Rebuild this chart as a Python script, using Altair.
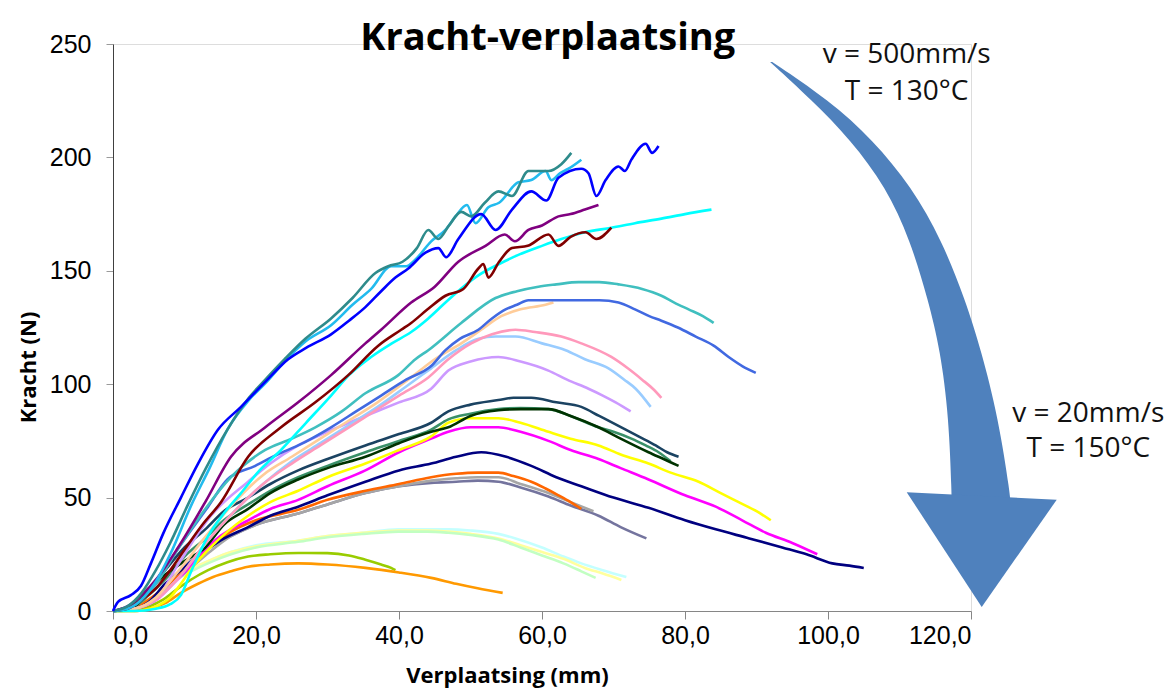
import altair as alt
import pandas as pd

# ---------------- data ----------------
blue_x = [0, 0.7, 2.5, 3.9, 5.3, 7, 9.5, 11.9, 14.7, 17.9, 21.3, 24.5, 27, 30.5, 33, 35.3, 37.5, 39.5, 41.3, 43.7, 45.5, 46.6, 48.3, 51.5, 53.5, 55.8, 58.5, 60.6, 62.3, 65.5, 66.5, 67.6, 68.9, 70.7, 71.6, 72.5, 74.5, 75.4, 76.3]
blue_y = [0, 4, 7, 11, 21, 34, 50, 65, 80, 90, 101, 111, 116, 122, 128, 134, 141, 147, 151, 158, 160, 156, 164, 175, 168, 177, 185, 181, 191, 195, 193, 183, 190, 196, 194, 199, 206, 202, 205]

teal_x = [0, 2, 4, 6, 8, 10.5, 13, 16, 19, 21.3, 24, 26.9, 30.5, 33.5, 36.7, 38.5, 40.5, 42.5, 44.1, 45.5, 47, 48.7, 50.1, 52, 53.9, 55.8, 58.1, 60.9, 62.7, 64.1]
teal_y = [0, 2, 8, 18, 30, 47, 63, 80, 94, 102, 111, 120, 129, 138, 149, 152, 154, 160, 168, 164, 170, 176, 174, 180, 185, 183, 194, 194, 197, 202]

sky_x = [0, 2, 4, 6, 8, 11, 13.5, 16, 19, 21.5, 24, 27, 30.5, 33.5, 36.1, 38.9, 41, 42.3, 44.5, 46.5, 47.9, 49.5, 50.7, 52.5, 54, 56.7, 58.5, 60.5, 61.3, 62.5, 63.7, 65.5]
sky_y = [0, 1, 5, 13, 25, 47, 63, 80, 93, 101, 110, 119, 126, 135, 142, 152, 152, 155, 163, 168, 174, 179, 171, 178, 180, 189, 190, 194, 190, 193, 195, 199]

purple_x = [0, 2, 4, 6.3, 9.1, 12.9, 16.5, 21.3, 25.9, 30.5, 35.3, 37.5, 41.7, 45, 48.3, 52.1, 54.8, 56.2, 58.1, 60, 62.3, 64, 66, 67.9]
purple_y = [0, 2, 7, 15, 28, 48, 68, 81, 92, 104, 118, 124, 136, 143, 154, 161, 166, 163, 168, 170, 174, 175, 177, 179]

maroon_x = [0, 2, 4, 6, 8, 10, 12.5, 15.1, 18.9, 23.5, 28.3, 32.9, 37.1, 40.3, 41.7, 44, 46.5, 49, 51.1, 51.8, 52.5, 54, 55.8, 58, 60.9, 62.3, 64, 66.1, 67.6, 69.7]
maroon_y = [0, 1, 5, 10, 18, 27, 38, 48, 68, 81, 92, 104, 117, 124, 127, 133, 139, 142, 151, 153, 147, 154, 160, 161, 166, 161, 165, 167, 164, 169]

cyan_x = [0, 3, 6, 8, 9.5, 11, 13.3, 15.5, 17.9, 20.5, 23.5, 27, 30.5, 33, 36.1, 39, 41.7, 44.1, 46.5, 49, 51.1, 54, 56.7, 60, 62.7, 66, 69.7, 73, 76.7, 80, 83.7]
cyan_y = [0, 0, 1, 3, 7, 18, 33, 43, 52, 62, 71, 83, 95, 104, 112, 118, 123, 129, 136, 143, 148, 153, 157, 161, 164, 167, 169, 171, 173, 175, 177]

turq_x = [0, 2, 4, 6, 9, 12.9, 16.5, 21.3, 25, 28.3, 32, 35.3, 39.9, 42.3, 44.1, 48.7, 53.5, 56.5, 59.5, 62, 65.1, 68, 70.7, 74, 76.7, 78.5, 80.5, 82.5, 84]
turq_y = [0, 1, 5, 12, 27, 45, 59, 71, 76, 81, 88, 96, 104, 111, 115, 127, 138, 141, 143, 144, 145, 145, 144, 142, 139, 136, 133, 130, 127]

royal_x = [0, 2, 4, 6, 9, 13.3, 16, 19.9, 23, 25.9, 30.5, 34, 37.5, 41, 44.5, 46.5, 48.5, 51.1, 53, 54.9, 56.5, 58.1, 61, 65.1, 68, 70.7, 73, 75, 76.7, 79, 81.5, 84, 86.1, 88, 89.9]
royal_y = [0, 1, 5, 12, 27, 46, 58, 64, 69, 73, 81, 88, 95, 102, 108, 115, 120, 124, 129, 133, 135, 137, 137, 137, 137, 136, 133, 130, 128, 125, 121, 117, 112, 108, 105]

peach_x = [0, 3, 6, 9, 13, 17, 21, 25, 29, 33, 37, 41.7, 45, 48.7, 51.5, 54.3, 57, 60.5, 61.6]
peach_y = [0, 1, 6, 17, 33, 48, 60, 68, 76, 84, 92, 103, 111, 118, 124, 130, 133, 135, 136]

pink_x = [0, 3, 6, 9, 13, 17, 21, 25, 29, 33, 37, 40, 44.1, 46.9, 50.1, 53, 56.3, 59, 62.7, 65.5, 69.7, 72, 74, 75.5, 76.7]
pink_y = [0, 1, 5, 14, 30, 44, 56, 65, 73, 81, 89, 95, 103, 111, 118, 122, 124, 123, 121, 118, 112, 107, 102, 98, 94]

lsky_x = [0, 3, 6, 9, 13, 17, 21, 25, 29, 33, 37, 41, 44.5, 48, 51.1, 53.5, 56.3, 60, 63.3, 66, 69.3, 71.5, 73.1, 75.2]
lsky_y = [0, 1, 5, 14, 30, 44, 56, 66, 74, 82, 90, 99, 107, 115, 120, 121, 121, 118, 115, 111, 107, 102, 98, 90]

lav_x = [0, 3, 6, 9, 13.7, 18.9, 22, 25.9, 30, 35.3, 40, 44.5, 46.9, 50, 53.9, 57, 60.9, 63.5, 66.5, 68.5, 70.3, 72.4]
lav_y = [0, 1, 5, 20, 42, 57, 65, 73, 79, 86, 92, 98, 106, 110, 112, 110, 106, 102, 98, 95, 92, 88]

dslate_x = [0, 3, 5, 7.3, 10, 12.9, 15.5, 18.9, 22, 25.9, 30, 35.3, 40, 44.5, 46.9, 50, 53.9, 56, 58.5, 62, 65.5, 68, 71.1, 73.5, 75.9, 77.5, 79.1]
dslate_y = [0, 3, 9, 18, 28, 36, 44, 50, 56, 62, 67, 73, 78, 83, 88, 91, 93, 94, 94, 92, 90, 86, 81, 77, 73, 70, 68]

sgreen_x = [0, 3, 5, 7.3, 10, 12.9, 15.5, 18.9, 22, 25.9, 30, 35.3, 40, 44.5, 46.9, 50, 53.9, 57, 60.9, 64, 67.9, 70, 72.5, 74.5, 76.3, 78]
sgreen_y = [0, 2, 7, 14, 24, 32, 40, 47, 53, 59, 64, 70, 75, 80, 84.5, 87, 89, 89.5, 89, 86, 81, 79, 76, 73, 70, 66]

dgreen_x = [0, 3, 4.9, 7.3, 10, 12.9, 15.5, 18.9, 22, 25.9, 30, 35.3, 40, 44.5, 46.9, 50, 53.9, 57, 60.9, 64, 67.9, 71, 74.9, 77, 79.1]
dgreen_y = [0, 2, 9, 16, 22, 28, 38, 45, 52, 58, 63, 68, 74, 79, 81, 86, 88.5, 89, 89, 86, 81, 76, 70, 67, 64]

yellow_x = [0, 3, 6, 8, 9.5, 11.3, 13.3, 16, 18.9, 22, 25.9, 30, 35.3, 40, 44.5, 46.9, 50, 53.9, 57, 60.9, 64, 67.9, 71, 74.9, 78, 81.9, 85, 87.5, 90, 92]
yellow_y = [0, 0, 2, 6, 12, 20, 27, 35, 42, 48, 53, 59, 65, 71, 77, 83, 85, 85, 83, 79, 76, 73, 69, 65, 61, 57, 52, 48, 44, 40]

magenta_x = [0, 3, 5, 6.5, 8.1, 10, 11.9, 15, 18.9, 22, 25.9, 30, 35.3, 40, 44.5, 46.9, 50, 53.9, 57, 60.9, 64, 67.9, 71, 74.9, 80, 84.3, 88, 91.3, 95, 98.5]
magenta_y = [0, 1, 3, 6, 11, 17, 24, 33, 40, 45, 49, 55, 62, 70, 76, 79, 81, 81, 79, 75, 71, 67, 63, 58, 51, 46, 40, 34.5, 30, 25]

navy_x = [0, 3, 5, 7.3, 9.5, 11.9, 15, 18.9, 22, 25.9, 30, 35.3, 40, 44.5, 48, 51.5, 55, 58.5, 62, 65.5, 70, 74.9, 80, 84.3, 89, 93.6, 97, 100.6, 103, 105]
navy_y = [0, 1, 4, 12, 18, 24, 31, 37, 42, 46, 51, 57, 62, 65, 68, 70, 68, 64, 59, 55, 50, 45.5, 40, 36, 32, 28, 25, 21, 20, 19]

ored_x = [0, 3, 4.5, 6.3, 8.5, 10.9, 13.5, 16.5, 20, 25.9, 30, 35.3, 40, 44.5, 48, 51, 53.9, 56, 58.5, 60.5, 62.3, 64, 65.5]
ored_y = [0, 1, 4, 8, 14, 21, 28, 35, 40, 44.6, 49, 53, 56, 59, 60.5, 61, 61, 59.5, 57, 54, 51, 48, 45]

gray_x = [0, 3, 4.5, 6.3, 8.5, 10.9, 13.5, 16.5, 20, 25.9, 30, 35.3, 40, 44.5, 48, 51, 53.9, 57, 60.9, 64, 67.2]
gray_y = [0, 1, 3.5, 7, 13, 19, 26, 33, 38, 43, 47, 52, 55, 57.5, 58.5, 59, 59, 56, 52, 48, 44]

slate_x = [0, 3, 5, 7, 9.5, 12, 16.5, 20, 25.9, 30, 35.3, 40, 44.5, 48, 51, 53.9, 57, 60.9, 64, 67.9, 71, 74.6]
slate_y = [0, 1, 4, 9, 18, 25, 33, 38, 43, 47, 52, 55, 56.5, 57, 57.5, 57, 54.5, 50.5, 46.5, 42, 37, 32]

pcyan_x = [0, 3, 5, 7.3, 9.5, 11.9, 14, 16.5, 20, 25.9, 30, 35, 39.9, 44, 46.9, 50, 53.9, 56.3, 60, 63, 65.5, 68.5, 71.8]
pcyan_y = [0, 1, 4, 11, 16, 20, 23, 26, 29, 31, 33, 34.5, 36, 36, 36, 35.5, 34, 32, 28, 24, 21, 18, 15]

pyellow_x = [0, 3, 5, 7.3, 9.5, 11.9, 14, 16.5, 20, 25.9, 30, 35, 39.9, 44, 46.9, 50, 53.9, 57, 60, 63, 66, 68.5, 71.1]
pyellow_y = [0, 1, 4, 11, 16, 20, 23, 26, 28.5, 31, 33, 34.5, 35.5, 35.5, 35, 34, 32, 29, 26, 23, 19, 16.5, 13.7]

pgreen_x = [0, 3, 5, 7.3, 9.5, 11.9, 14, 16.5, 20, 25.9, 30, 35, 39.9, 44, 46.9, 50, 53.9, 57, 60, 63, 65.5, 67.5]
pgreen_y = [0, 1, 4, 10, 15, 19, 22, 25, 28, 30.5, 32.5, 34, 35, 35, 34.5, 33.5, 31.5, 28, 24.5, 21, 17.5, 14.6]

ygreen_x = [0, 3, 5, 7, 8.7, 11, 13.3, 16, 18.9, 22, 25.9, 30, 33, 35.3, 37.5, 38.9, 39.5]
ygreen_y = [0, 0.5, 2, 5, 9, 14, 18, 21.5, 24, 25, 25.6, 25.5, 24.5, 22.6, 20.5, 19, 18]

orange_x = [0, 3, 5, 7.3, 9.5, 11.9, 14, 16.5, 18.9, 22, 25.9, 30, 35.3, 40, 44.5, 48, 51, 54.5]
orange_y = [0, 0, 1, 3.5, 8, 12, 15, 17.5, 19.5, 20.5, 21, 20.5, 19, 17, 14.6, 12, 10, 8]

series_names = ["pcyan", "pyellow", "pgreen", "ygreen", "orange", "slate", "gray", "ored",
                "navy", "magenta", "yellow", "sgreen", "dgreen", "dslate",
                "lav", "lsky", "pink", "peach", "royal", "turq", "cyan",
                "maroon", "purple", "sky", "teal", "blue"]
series_colors = ["#C4FFFF", "#FFFF9E", "#C2FFC2", "#99CC00", "#FF9900", "#74749E", "#A6A6A6", "#FF6600",
                 "#000080", "#FF00FF", "#FFFF00", "#3A9068", "#003300", "#1B4362",
                 "#CC99FF", "#99CCFF", "#FF99BB", "#FFCC99", "#4169E1", "#40BFBF", "#00FFFF",
                 "#800000", "#800080", "#22BBEE", "#2E8B8B", "#0000FF"]
series_data = {
    "pcyan": (pcyan_x, pcyan_y), "pyellow": (pyellow_x, pyellow_y), "pgreen": (pgreen_x, pgreen_y),
    "ygreen": (ygreen_x, ygreen_y), "orange": (orange_x, orange_y), "slate": (slate_x, slate_y),
    "gray": (gray_x, gray_y), "ored": (ored_x, ored_y), "navy": (navy_x, navy_y),
    "magenta": (magenta_x, magenta_y), "yellow": (yellow_x, yellow_y), "sgreen": (sgreen_x, sgreen_y),
    "dgreen": (dgreen_x, dgreen_y), "dslate": (dslate_x, dslate_y), "lav": (lav_x, lav_y),
    "lsky": (lsky_x, lsky_y), "pink": (pink_x, pink_y), "peach": (peach_x, peach_y),
    "royal": (royal_x, royal_y), "turq": (turq_x, turq_y), "cyan": (cyan_x, cyan_y),
    "maroon": (maroon_x, maroon_y), "purple": (purple_x, purple_y), "sky": (sky_x, sky_y),
    "teal": (teal_x, teal_y), "blue": (blue_x, blue_y),
}

# decorative curved arrow (data units): shaft edges and head position
shaft_y = [242.1, 225.3, 207.7, 186.9, 163.6, 137.1, 115.1, 85.5, 51.1, 44.5]
shaft_left = [91.9, 97.7, 103.2, 108.1, 111.5, 114.0, 115.7, 116.9, 117.3, 117.3]
shaft_right = [92.2, 100.1, 106.3, 111.7, 115.9, 119.2, 121.4, 123.8, 125.5, 125.6]
head_x = [121.5]
head_y = [26.9]

title_text = ["Kracht-verplaatsing"]
title_x = [60.8]
title_y = [247.5]
note_text = ["v = 500mm/s", "T = 130°C", "v = 20mm/s", "T = 150°C"]
note_x = [111.0, 111.0, 136.4, 136.4]
note_y = [241.7, 225.4, 83.4, 67.9]

# ---------------- build tables ----------------
rows = []
for name in series_names:
    xs, ys = series_data[name]
    for i, (xv, yv) in enumerate(zip(xs, ys)):
        rows.append({"series": name, "x": xv, "y": yv, "i": i})
df = pd.DataFrame(rows)

shaft_df = pd.DataFrame({"y": shaft_y, "xl": shaft_left, "xr": shaft_right})
head_df = pd.DataFrame({"x": head_x, "y": head_y})
title_df = pd.DataFrame({"t": title_text, "x": title_x, "y": title_y})
note_df = pd.DataFrame({"t": note_text, "x": note_x, "y": note_y})

xscale = alt.Scale(domain=[0, 120], nice=False, zero=False)
yscale = alt.Scale(domain=[0, 250], nice=False)

xaxis = alt.Axis(values=[0, 20, 40, 60, 80, 100, 120],
                 labelExpr="replace(format(datum.value, '.1f'), '.', ',')",
                 title="Verplaatsing (mm)", grid=False,
                 domainColor="#868686", tickColor="#868686", tickSize=8,
                 labelFont="Liberation Sans", labelFontSize=25, labelColor="#000000",
                 labelPadding=4,
                 titleFont="Open Sans", titleFontSize=22, titleFontWeight="bold", titleColor="#000000",
                 titleX=394, titleY=64, titleBaseline="middle")
yaxis = alt.Axis(values=[0, 50, 100, 150, 200, 250],
                 title="Kracht (N)", grid=False,
                 domainColor="#404040", tickColor="#9a9a9a", tickSize=7,
                 labelFont="Liberation Sans", labelFontSize=25, labelColor="#000000",
                 labelPadding=15,
                 titleFont="Open Sans", titleFontSize=22, titleFontWeight="bold", titleColor="#000000",
                 titleX=-85, titleY=323, titleAngle=-90, titleAlign="center", titleBaseline="middle")

lines = alt.Chart(df).mark_line(strokeWidth=2.6, interpolate="monotone").encode(
    x=alt.X("x:Q", scale=xscale, axis=xaxis),
    y=alt.Y("y:Q", scale=yscale, axis=yaxis),
    color=alt.Color("series:N", scale=alt.Scale(domain=series_names, range=series_colors), legend=None),
    order=alt.Order("i:Q"),
)

shaft = alt.Chart(shaft_df).mark_area(color="#4F81BD", orient="horizontal",
                                       interpolate="basis", opacity=1).encode(
    y=alt.Y("y:Q", scale=yscale),
    x=alt.X("xl:Q", scale=xscale),
    x2="xr:Q",
)

head = alt.Chart(head_df).mark_point(
    shape="M-1,-0.77L1,-0.67L0,0.76Z", size=22500, filled=True,
    color="#4F81BD", opacity=1, strokeWidth=0,
).encode(x=alt.X("x:Q", scale=xscale), y=alt.Y("y:Q", scale=yscale))

title = alt.Chart(title_df).mark_text(
    font="Open Sans", fontSize=38, fontWeight="bold", color="#000000",
    align="center", baseline="alphabetic",
).encode(x=alt.X("x:Q", scale=xscale), y=alt.Y("y:Q", scale=yscale), text="t:N")

notes = alt.Chart(note_df).mark_text(
    font="Open Sans", fontSize=28, color="#111111",
    align="center", baseline="alphabetic",
).encode(x=alt.X("x:Q", scale=xscale), y=alt.Y("y:Q", scale=yscale), text="t:N")

chart = alt.layer(lines, shaft, head, title, notes).properties(
    width=858, height=567,
    autosize=alt.AutoSizeParams(type="none"),
    padding={"left": 105, "top": 36, "right": 197, "bottom": 79},
).configure_view(stroke=None).configure(background="#ffffff")

chart.save("out.html", embed_options={"renderer": "svg", "actions": False})
